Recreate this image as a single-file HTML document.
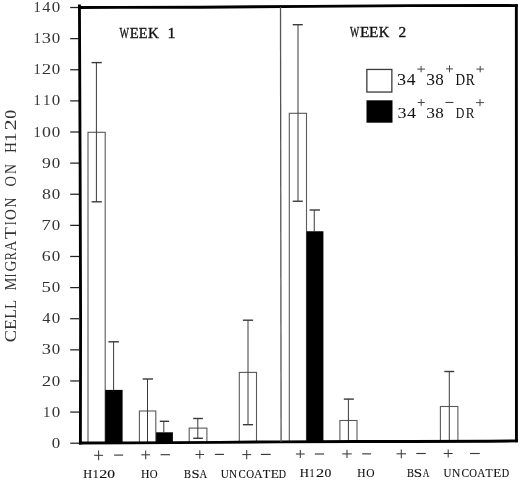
<!DOCTYPE html>
<html><head><meta charset="utf-8"><style>
html,body{margin:0;padding:0;background:#fff;width:520px;height:480px;overflow:hidden}
svg{display:block;filter:grayscale(1)}
</style></head><body>
<svg width="520" height="480" viewBox="0 0 520 480">
<g stroke="#222" stroke-width="1.25">
<line x1="70.2" y1="443.20" x2="79" y2="443.20"/>
<line x1="70.2" y1="412.08" x2="79" y2="412.08"/>
<line x1="70.2" y1="380.96" x2="79" y2="380.96"/>
<line x1="70.2" y1="349.84" x2="79" y2="349.84"/>
<line x1="70.2" y1="318.72" x2="79" y2="318.72"/>
<line x1="70.2" y1="287.60" x2="79" y2="287.60"/>
<line x1="70.2" y1="256.48" x2="79" y2="256.48"/>
<line x1="70.2" y1="225.36" x2="79" y2="225.36"/>
<line x1="70.2" y1="194.24" x2="79" y2="194.24"/>
<line x1="70.2" y1="163.12" x2="79" y2="163.12"/>
<line x1="70.2" y1="132.00" x2="79" y2="132.00"/>
<line x1="70.2" y1="100.88" x2="79" y2="100.88"/>
<line x1="70.2" y1="69.76" x2="79" y2="69.76"/>
<line x1="70.2" y1="38.64" x2="79" y2="38.64"/>
<line x1="70.2" y1="7.52" x2="79" y2="7.52"/>
</g>
<text transform="translate(51.76,447.80) scale(1.0943,1)" font-family="Liberation Serif" font-size="15.48" fill="#333">0</text>
<text transform="translate(43.01,416.68) scale(0.9529,1)" font-family="Liberation Serif" font-size="15.48" fill="#333">1</text><text transform="translate(51.76,416.68) scale(1.0943,1)" font-family="Liberation Serif" font-size="15.48" fill="#333">0</text>
<text transform="translate(41.80,385.56) scale(1.2196,1)" font-family="Liberation Serif" font-size="15.48" fill="#333">2</text><text transform="translate(51.76,385.56) scale(1.0943,1)" font-family="Liberation Serif" font-size="15.48" fill="#333">0</text>
<text transform="translate(41.72,354.44) scale(1.1901,1)" font-family="Liberation Serif" font-size="15.48" fill="#333">3</text><text transform="translate(51.76,354.44) scale(1.0943,1)" font-family="Liberation Serif" font-size="15.48" fill="#333">0</text>
<text transform="translate(42.27,323.32) scale(1.0557,1)" font-family="Liberation Serif" font-size="15.48" fill="#333">4</text><text transform="translate(51.76,323.32) scale(1.0943,1)" font-family="Liberation Serif" font-size="15.48" fill="#333">0</text>
<text transform="translate(41.51,292.20) scale(1.2196,1)" font-family="Liberation Serif" font-size="15.48" fill="#333">5</text><text transform="translate(51.76,292.20) scale(1.0943,1)" font-family="Liberation Serif" font-size="15.48" fill="#333">0</text>
<text transform="translate(41.84,261.08) scale(1.1483,1)" font-family="Liberation Serif" font-size="15.48" fill="#333">6</text><text transform="translate(51.76,261.08) scale(1.0943,1)" font-family="Liberation Serif" font-size="15.48" fill="#333">0</text>
<text transform="translate(41.39,229.96) scale(1.2047,1)" font-family="Liberation Serif" font-size="15.48" fill="#333">7</text><text transform="translate(51.76,229.96) scale(1.0943,1)" font-family="Liberation Serif" font-size="15.48" fill="#333">0</text>
<text transform="translate(41.93,198.84) scale(1.1551,1)" font-family="Liberation Serif" font-size="15.48" fill="#333">8</text><text transform="translate(51.76,198.84) scale(1.0943,1)" font-family="Liberation Serif" font-size="15.48" fill="#333">0</text>
<text transform="translate(42.02,167.72) scale(1.1483,1)" font-family="Liberation Serif" font-size="15.48" fill="#333">9</text><text transform="translate(51.76,167.72) scale(1.0943,1)" font-family="Liberation Serif" font-size="15.48" fill="#333">0</text>
<text transform="translate(33.53,136.60) scale(0.9345,1)" font-family="Liberation Serif" font-size="15.48" fill="#333">1</text><text transform="translate(41.93,136.60) scale(1.1551,1)" font-family="Liberation Serif" font-size="15.48" fill="#333">0</text><text transform="translate(51.76,136.60) scale(1.0943,1)" font-family="Liberation Serif" font-size="15.48" fill="#333">0</text>
<text transform="translate(33.53,105.48) scale(0.9345,1)" font-family="Liberation Serif" font-size="15.48" fill="#333">1</text><text transform="translate(43.01,105.48) scale(0.9529,1)" font-family="Liberation Serif" font-size="15.48" fill="#333">1</text><text transform="translate(51.76,105.48) scale(1.0943,1)" font-family="Liberation Serif" font-size="15.48" fill="#333">0</text>
<text transform="translate(33.53,74.36) scale(0.9345,1)" font-family="Liberation Serif" font-size="15.48" fill="#333">1</text><text transform="translate(41.80,74.36) scale(1.2196,1)" font-family="Liberation Serif" font-size="15.48" fill="#333">2</text><text transform="translate(51.76,74.36) scale(1.0943,1)" font-family="Liberation Serif" font-size="15.48" fill="#333">0</text>
<text transform="translate(33.53,43.24) scale(0.9345,1)" font-family="Liberation Serif" font-size="15.48" fill="#333">1</text><text transform="translate(41.72,43.24) scale(1.1901,1)" font-family="Liberation Serif" font-size="15.48" fill="#333">3</text><text transform="translate(51.76,43.24) scale(1.0943,1)" font-family="Liberation Serif" font-size="15.48" fill="#333">0</text>
<text transform="translate(33.53,12.12) scale(0.9345,1)" font-family="Liberation Serif" font-size="15.48" fill="#333">1</text><text transform="translate(42.27,12.12) scale(1.0557,1)" font-family="Liberation Serif" font-size="15.48" fill="#333">4</text><text transform="translate(51.76,12.12) scale(1.0943,1)" font-family="Liberation Serif" font-size="15.48" fill="#333">0</text>
<text transform="translate(15.73,342.13) rotate(-90) scale(1.0672,1)" font-family="Liberation Serif" font-size="17.19" fill="#333">C</text><text transform="translate(15.73,329.89) rotate(-90) scale(1.0272,1)" font-family="Liberation Serif" font-size="17.19" fill="#333">E</text><text transform="translate(15.73,318.84) rotate(-90) scale(0.9244,1)" font-family="Liberation Serif" font-size="17.19" fill="#333">L</text><text transform="translate(15.73,308.91) rotate(-90) scale(0.8687,1)" font-family="Liberation Serif" font-size="17.19" fill="#333">L</text><text transform="translate(15.73,290.40) rotate(-90) scale(0.8458,1)" font-family="Liberation Serif" font-size="17.19" fill="#333">M</text><text transform="translate(15.73,276.92) rotate(-90) scale(0.5320,1)" font-family="Liberation Serif" font-size="17.19" fill="#333">I</text><text transform="translate(15.73,271.60) rotate(-90) scale(0.8773,1)" font-family="Liberation Serif" font-size="17.19" fill="#333">G</text><text transform="translate(15.73,260.14) rotate(-90) scale(0.7211,1)" font-family="Liberation Serif" font-size="17.19" fill="#333">R</text><text transform="translate(15.73,251.15) rotate(-90) scale(0.8501,1)" font-family="Liberation Serif" font-size="17.19" fill="#333">A</text><text transform="translate(15.73,239.04) rotate(-90) scale(1.1285,1)" font-family="Liberation Serif" font-size="17.19" fill="#333">T</text><text transform="translate(15.73,224.96) rotate(-90) scale(0.5985,1)" font-family="Liberation Serif" font-size="17.19" fill="#333">I</text><text transform="translate(15.73,219.90) rotate(-90) scale(0.8694,1)" font-family="Liberation Serif" font-size="17.19" fill="#333">O</text><text transform="translate(15.73,207.48) rotate(-90) scale(0.7961,1)" font-family="Liberation Serif" font-size="17.19" fill="#333">N</text><text transform="translate(15.73,186.48) rotate(-90) scale(0.8423,1)" font-family="Liberation Serif" font-size="17.19" fill="#333">O</text><text transform="translate(15.73,174.08) rotate(-90) scale(0.8047,1)" font-family="Liberation Serif" font-size="17.19" fill="#333">N</text><text transform="translate(15.73,152.91) rotate(-90) scale(0.8750,1)" font-family="Liberation Serif" font-size="17.19" fill="#333">H</text><text transform="translate(15.73,142.24) rotate(-90) scale(1.1555,1)" font-family="Liberation Serif" font-size="17.19" fill="#333">1</text><text transform="translate(15.73,130.45) rotate(-90) scale(1.3011,1)" font-family="Liberation Serif" font-size="17.19" fill="#333">2</text><text transform="translate(15.73,118.66) rotate(-90) scale(1.0269,1)" font-family="Liberation Serif" font-size="17.19" fill="#333">0</text>
<text transform="translate(119.60,38.08) scale(0.6736,1)" font-family="Liberation Serif" font-size="14.96" fill="#111" stroke="#111" stroke-width="0.35">W</text><text transform="translate(129.80,38.08) scale(0.9789,1)" font-family="Liberation Serif" font-size="14.96" fill="#111" stroke="#111" stroke-width="0.35">E</text><text transform="translate(138.71,38.08) scale(0.9538,1)" font-family="Liberation Serif" font-size="14.96" fill="#111" stroke="#111" stroke-width="0.35">E</text><text transform="translate(147.99,38.08) scale(1.0049,1)" font-family="Liberation Serif" font-size="14.96" fill="#111" stroke="#111" stroke-width="0.35">K</text><text transform="translate(167.41,38.08) scale(1.0617,1)" font-family="Liberation Serif" font-size="14.96" fill="#111" stroke="#111" stroke-width="0.35">1</text>
<text transform="translate(350.00,37.47) scale(0.6421,1)" font-family="Liberation Serif" font-size="15.20" fill="#111" stroke="#111" stroke-width="0.35">W</text><text transform="translate(359.88,37.47) scale(1.0129,1)" font-family="Liberation Serif" font-size="15.20" fill="#111" stroke="#111" stroke-width="0.35">E</text><text transform="translate(369.08,37.47) scale(1.0129,1)" font-family="Liberation Serif" font-size="15.20" fill="#111" stroke="#111" stroke-width="0.35">E</text><text transform="translate(378.80,37.47) scale(0.9602,1)" font-family="Liberation Serif" font-size="15.20" fill="#111" stroke="#111" stroke-width="0.35">K</text><text transform="translate(398.55,37.47) scale(1.0132,1)" font-family="Liberation Serif" font-size="15.20" fill="#111" stroke="#111" stroke-width="0.35">2</text>
<g stroke="#5a5a5a" stroke-width="1.1" fill="#fff">
<rect x="88.00" y="132.30" width="17.20" height="310.62"/>
<rect x="139.40" y="411.00" width="16.40" height="31.66"/>
<rect x="189.20" y="428.10" width="17.70" height="14.31"/>
<rect x="239.30" y="372.40" width="17.20" height="69.76"/>
<rect x="289.30" y="113.30" width="17.20" height="328.61"/>
<rect x="339.90" y="420.50" width="17.10" height="21.16"/>
<rect x="440.40" y="406.50" width="17.50" height="34.65"/>
</g>
<g fill="#000">
<rect x="105.20" y="389.90" width="17.40" height="52.93"/>
<rect x="156.10" y="432.30" width="16.80" height="10.28"/>
<rect x="306.50" y="231.25" width="16.90" height="210.58"/>
</g>
<g stroke="#3a3a3a" stroke-width="1.0" fill="none">
<line x1="96.4" y1="62.6" x2="96.4" y2="201.8"/>
<line x1="91.6" y1="62.6" x2="101.8" y2="62.6" stroke-width="1.4"/>
<line x1="91.6" y1="201.8" x2="101.8" y2="201.8" stroke-width="1.4"/>
<line x1="113.6" y1="341.8" x2="113.6" y2="389.9"/>
<line x1="108.4" y1="341.8" x2="118.9" y2="341.8" stroke-width="1.4"/>
<line x1="147.5" y1="379" x2="147.5" y2="442"/>
<line x1="142.7" y1="379" x2="153" y2="379" stroke-width="1.4"/>
<line x1="163.8" y1="421.3" x2="163.8" y2="432.3"/>
<line x1="159.8" y1="421.3" x2="169.1" y2="421.3" stroke-width="1.4"/>
<line x1="197.8" y1="418.5" x2="197.8" y2="438.3"/>
<line x1="193.2" y1="418.5" x2="202.9" y2="418.5" stroke-width="1.4"/>
<line x1="193.2" y1="438.3" x2="202.9" y2="438.3" stroke-width="1.4"/>
<line x1="248" y1="320.2" x2="248" y2="424.7"/>
<line x1="242.9" y1="320.2" x2="253.1" y2="320.2" stroke-width="1.4"/>
<line x1="242.9" y1="424.7" x2="253.1" y2="424.7" stroke-width="1.4"/>
<line x1="298" y1="24.7" x2="298" y2="201.25"/>
<line x1="292.7" y1="24.7" x2="302.8" y2="24.7" stroke-width="1.4"/>
<line x1="292.7" y1="201.25" x2="302.8" y2="201.25" stroke-width="1.4"/>
<line x1="314.25" y1="210" x2="314.25" y2="231.25"/>
<line x1="309.6" y1="210" x2="320" y2="210" stroke-width="1.4"/>
<line x1="348.4" y1="399.1" x2="348.4" y2="441.5"/>
<line x1="343.8" y1="399.1" x2="353.9" y2="399.1" stroke-width="1.4"/>
<line x1="449.3" y1="371.5" x2="449.3" y2="441"/>
<line x1="444.3" y1="371.5" x2="454.2" y2="371.5" stroke-width="1.4"/>
</g>
<rect x="366.85" y="69.45" width="25.0" height="22.6" fill="#fff" stroke="#3a3a3a" stroke-width="1.3"/>
<rect x="366.5" y="100.3" width="26.0" height="22.4" fill="#000"/>
<text transform="translate(397.04,84.74) scale(1.1578,1)" font-family="Liberation Serif" font-size="15.70" fill="#111">3</text><text transform="translate(406.65,84.74) scale(1.1229,1)" font-family="Liberation Serif" font-size="15.70" fill="#111">4</text><text transform="translate(426.37,84.74) scale(1.1115,1)" font-family="Liberation Serif" font-size="15.70" fill="#111">3</text><text transform="translate(435.26,84.74) scale(1.0788,1)" font-family="Liberation Serif" font-size="15.70" fill="#111">8</text><text transform="translate(455.43,84.74) scale(0.8458,1)" font-family="Liberation Serif" font-size="15.70" fill="#111">D</text><text transform="translate(465.83,84.74) scale(0.8590,1)" font-family="Liberation Serif" font-size="15.70" fill="#111">R</text>
<text transform="translate(397.55,118.15) scale(1.1756,1)" font-family="Liberation Serif" font-size="15.26" fill="#111">3</text><text transform="translate(406.94,118.15) scale(1.1838,1)" font-family="Liberation Serif" font-size="15.26" fill="#111">4</text><text transform="translate(426.37,118.15) scale(1.1439,1)" font-family="Liberation Serif" font-size="15.26" fill="#111">3</text><text transform="translate(435.26,118.15) scale(1.1102,1)" font-family="Liberation Serif" font-size="15.26" fill="#111">8</text><text transform="translate(455.87,118.15) scale(0.7804,1)" font-family="Liberation Serif" font-size="15.26" fill="#111">D</text><text transform="translate(465.64,118.15) scale(0.8635,1)" font-family="Liberation Serif" font-size="15.26" fill="#111">R</text>
<line x1="417.25" y1="69.10" x2="424.95" y2="69.10" stroke="#444" stroke-width="1.0"/><line x1="421.10" y1="65.95" x2="421.10" y2="72.25" stroke="#444" stroke-width="1.0"/>
<line x1="446.00" y1="68.90" x2="453.00" y2="68.90" stroke="#444" stroke-width="1.0"/><line x1="449.50" y1="65.45" x2="449.50" y2="72.35" stroke="#444" stroke-width="1.0"/>
<line x1="476.45" y1="69.10" x2="483.95" y2="69.10" stroke="#444" stroke-width="1.0"/><line x1="480.20" y1="65.90" x2="480.20" y2="72.30" stroke="#444" stroke-width="1.0"/>
<line x1="417.70" y1="102.50" x2="424.70" y2="102.50" stroke="#444" stroke-width="1.0"/><line x1="421.20" y1="99.15" x2="421.20" y2="105.85" stroke="#444" stroke-width="1.0"/>
<line x1="445.40" y1="102.45" x2="453.50" y2="102.45" stroke="#444" stroke-width="1.1"/>
<line x1="476.05" y1="102.60" x2="483.95" y2="102.60" stroke="#444" stroke-width="1.0"/><line x1="480.00" y1="99.10" x2="480.00" y2="106.10" stroke="#444" stroke-width="1.0"/>
<line x1="94.15" y1="455.30" x2="103.05" y2="455.30" stroke="#3a3a3a" stroke-width="1.05"/><line x1="98.60" y1="450.40" x2="98.60" y2="460.20" stroke="#3a3a3a" stroke-width="1.05"/>
<line x1="114.10" y1="455.10" x2="123.10" y2="455.10" stroke="#3a3a3a" stroke-width="1.15"/>
<line x1="141.30" y1="454.80" x2="150.10" y2="454.80" stroke="#3a3a3a" stroke-width="1.05"/><line x1="145.70" y1="450.40" x2="145.70" y2="459.20" stroke="#3a3a3a" stroke-width="1.05"/>
<line x1="160.60" y1="454.70" x2="170.00" y2="454.70" stroke="#3a3a3a" stroke-width="1.15"/>
<line x1="195.55" y1="454.50" x2="204.05" y2="454.50" stroke="#3a3a3a" stroke-width="1.05"/><line x1="199.80" y1="450.25" x2="199.80" y2="458.75" stroke="#3a3a3a" stroke-width="1.05"/>
<line x1="214.85" y1="454.40" x2="223.95" y2="454.40" stroke="#3a3a3a" stroke-width="1.15"/>
<line x1="242.30" y1="454.60" x2="251.10" y2="454.60" stroke="#3a3a3a" stroke-width="1.05"/><line x1="246.70" y1="450.05" x2="246.70" y2="459.15" stroke="#3a3a3a" stroke-width="1.05"/>
<line x1="260.90" y1="454.40" x2="270.70" y2="454.40" stroke="#3a3a3a" stroke-width="1.15"/>
<line x1="295.90" y1="454.00" x2="304.70" y2="454.00" stroke="#3a3a3a" stroke-width="1.05"/><line x1="300.30" y1="449.90" x2="300.30" y2="458.10" stroke="#3a3a3a" stroke-width="1.05"/>
<line x1="314.85" y1="454.00" x2="324.15" y2="454.00" stroke="#3a3a3a" stroke-width="1.15"/>
<line x1="342.25" y1="453.90" x2="351.75" y2="453.90" stroke="#3a3a3a" stroke-width="1.05"/><line x1="347.00" y1="449.80" x2="347.00" y2="458.00" stroke="#3a3a3a" stroke-width="1.05"/>
<line x1="362.15" y1="453.85" x2="371.05" y2="453.85" stroke="#3a3a3a" stroke-width="1.15"/>
<line x1="396.55" y1="453.80" x2="406.05" y2="453.80" stroke="#3a3a3a" stroke-width="1.05"/><line x1="401.30" y1="449.40" x2="401.30" y2="458.20" stroke="#3a3a3a" stroke-width="1.05"/>
<line x1="416.25" y1="453.50" x2="425.75" y2="453.50" stroke="#3a3a3a" stroke-width="1.15"/>
<line x1="443.75" y1="453.50" x2="452.65" y2="453.50" stroke="#3a3a3a" stroke-width="1.05"/><line x1="448.20" y1="449.50" x2="448.20" y2="457.50" stroke="#3a3a3a" stroke-width="1.05"/>
<line x1="470.00" y1="453.50" x2="479.80" y2="453.50" stroke="#3a3a3a" stroke-width="1.15"/>
<text transform="translate(83.26,478.18) scale(1.0276,1)" font-family="Liberation Serif" font-size="12.00" fill="#111" stroke="#111" stroke-width="0.12">H</text><text transform="translate(92.76,478.18) scale(0.9929,1)" font-family="Liberation Serif" font-size="12.00" fill="#111" stroke="#111" stroke-width="0.12">1</text><text transform="translate(99.31,478.18) scale(1.3458,1)" font-family="Liberation Serif" font-size="12.00" fill="#111" stroke="#111" stroke-width="0.12">2</text><text transform="translate(107.22,478.18) scale(1.2941,1)" font-family="Liberation Serif" font-size="12.00" fill="#111" stroke="#111" stroke-width="0.12">0</text>
<text transform="translate(140.88,478.18) scale(0.9738,1)" font-family="Liberation Serif" font-size="12.04" fill="#111" stroke="#111" stroke-width="0.12">H</text><text transform="translate(149.86,478.18) scale(0.9045,1)" font-family="Liberation Serif" font-size="12.04" fill="#111" stroke="#111" stroke-width="0.12">O</text>
<text transform="translate(184.11,478.08) scale(0.8834,1)" font-family="Liberation Serif" font-size="11.90" fill="#111" stroke="#111" stroke-width="0.12">B</text><text transform="translate(191.52,478.08) scale(1.2192,1)" font-family="Liberation Serif" font-size="11.90" fill="#111" stroke="#111" stroke-width="0.12">S</text><text transform="translate(199.39,478.08) scale(0.8943,1)" font-family="Liberation Serif" font-size="11.90" fill="#111" stroke="#111" stroke-width="0.12">A</text>
<text transform="translate(220.68,477.98) scale(0.9132,1)" font-family="Liberation Serif" font-size="12.19" fill="#111" stroke="#111" stroke-width="0.12">U</text><text transform="translate(229.09,477.98) scale(0.9268,1)" font-family="Liberation Serif" font-size="12.19" fill="#111" stroke="#111" stroke-width="0.12">N</text><text transform="translate(238.47,477.98) scale(0.8882,1)" font-family="Liberation Serif" font-size="12.19" fill="#111" stroke="#111" stroke-width="0.12">C</text><text transform="translate(246.26,477.98) scale(0.8935,1)" font-family="Liberation Serif" font-size="12.19" fill="#111" stroke="#111" stroke-width="0.12">O</text><text transform="translate(254.08,477.98) scale(0.9772,1)" font-family="Liberation Serif" font-size="12.19" fill="#111" stroke="#111" stroke-width="0.12">A</text><text transform="translate(262.78,477.98) scale(1.0083,1)" font-family="Liberation Serif" font-size="12.19" fill="#111" stroke="#111" stroke-width="0.12">T</text><text transform="translate(270.63,477.98) scale(1.0935,1)" font-family="Liberation Serif" font-size="12.19" fill="#111" stroke="#111" stroke-width="0.12">E</text><text transform="translate(278.72,477.98) scale(0.8264,1)" font-family="Liberation Serif" font-size="12.19" fill="#111" stroke="#111" stroke-width="0.12">D</text>
<text transform="translate(299.65,477.37) scale(0.9800,1)" font-family="Liberation Serif" font-size="12.89" fill="#111" stroke="#111" stroke-width="0.12">H</text><text transform="translate(309.41,477.37) scale(0.7924,1)" font-family="Liberation Serif" font-size="12.89" fill="#111" stroke="#111" stroke-width="0.12">1</text><text transform="translate(316.10,477.37) scale(1.2722,1)" font-family="Liberation Serif" font-size="12.89" fill="#111" stroke="#111" stroke-width="0.12">2</text><text transform="translate(324.39,477.37) scale(1.0588,1)" font-family="Liberation Serif" font-size="12.89" fill="#111" stroke="#111" stroke-width="0.12">0</text>
<text transform="translate(357.19,477.27) scale(0.8937,1)" font-family="Liberation Serif" font-size="12.79" fill="#111" stroke="#111" stroke-width="0.12">H</text><text transform="translate(366.24,477.27) scale(0.9006,1)" font-family="Liberation Serif" font-size="12.79" fill="#111" stroke="#111" stroke-width="0.12">O</text>
<text transform="translate(406.91,476.78) scale(0.8725,1)" font-family="Liberation Serif" font-size="12.04" fill="#111" stroke="#111" stroke-width="0.12">B</text><text transform="translate(413.79,476.78) scale(1.2429,1)" font-family="Liberation Serif" font-size="12.04" fill="#111" stroke="#111" stroke-width="0.12">S</text><text transform="translate(422.71,476.78) scale(0.7655,1)" font-family="Liberation Serif" font-size="12.04" fill="#111" stroke="#111" stroke-width="0.12">A</text>
<text transform="translate(443.53,476.68) scale(0.9012,1)" font-family="Liberation Serif" font-size="12.19" fill="#111" stroke="#111" stroke-width="0.12">U</text><text transform="translate(451.93,476.68) scale(0.9451,1)" font-family="Liberation Serif" font-size="12.19" fill="#111" stroke="#111" stroke-width="0.12">N</text><text transform="translate(461.55,476.68) scale(0.9311,1)" font-family="Liberation Serif" font-size="12.19" fill="#111" stroke="#111" stroke-width="0.12">C</text><text transform="translate(469.37,476.68) scale(0.8808,1)" font-family="Liberation Serif" font-size="12.19" fill="#111" stroke="#111" stroke-width="0.12">O</text><text transform="translate(477.19,476.68) scale(0.9190,1)" font-family="Liberation Serif" font-size="12.19" fill="#111" stroke="#111" stroke-width="0.12">A</text><text transform="translate(485.60,476.68) scale(0.9515,1)" font-family="Liberation Serif" font-size="12.19" fill="#111" stroke="#111" stroke-width="0.12">T</text><text transform="translate(493.14,476.68) scale(1.0781,1)" font-family="Liberation Serif" font-size="12.19" fill="#111" stroke="#111" stroke-width="0.12">E</text><text transform="translate(501.72,476.68) scale(0.8452,1)" font-family="Liberation Serif" font-size="12.19" fill="#111" stroke="#111" stroke-width="0.12">D</text>
<g stroke="#000" fill="none" stroke-linecap="square">
<polyline points="79.45,7.45 120,7.4 200,7.2 310,6.35 410,5.6 490,5.5 516.35,5.6" stroke-width="2.95"/>
<polyline points="79.45,6 80.1,163 80.6,318 80.4,443" stroke-width="2.85"/>
<line x1="516.35" y1="5.6" x2="516.45" y2="440.9" stroke-width="2.9"/>
<polyline points="80.4,443.0 130,442.85 220,442.35 280,441.9 355,441.5 410,441.4 490,441.15 516.45,440.9" stroke-width="2.95"/>
</g>
<line x1="280.5" y1="7" x2="281.1" y2="442" stroke="#555" stroke-width="1.3"/>
</svg>
</body></html>
